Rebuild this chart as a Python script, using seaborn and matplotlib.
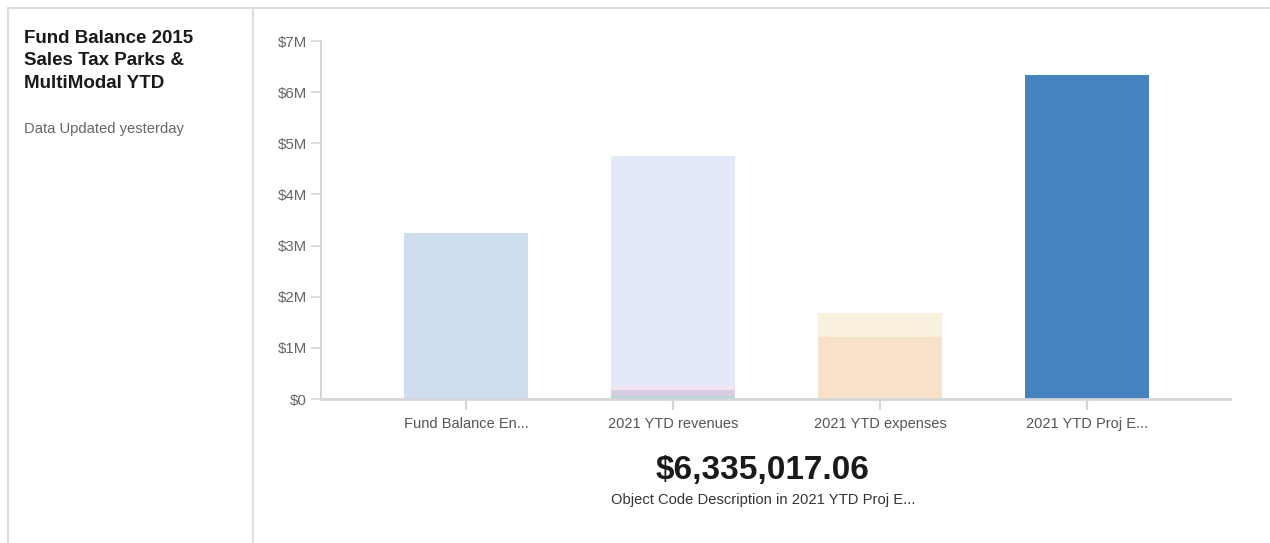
import matplotlib
matplotlib.use("Agg")
import matplotlib.pyplot as plt
from matplotlib.lines import Line2D
from matplotlib.ticker import FuncFormatter, MultipleLocator
import seaborn as sns
import pandas as pd

# Chart content
categories = ["Fund Balance En...", "2021 YTD revenues", "2021 YTD expenses", "2021 YTD Proj E..."]

# Stacked segments (bottom to top) per category, in dollars
seg_category = [
    "Fund Balance En...",
    "2021 YTD revenues", "2021 YTD revenues", "2021 YTD revenues", "2021 YTD revenues",
    "2021 YTD expenses", "2021 YTD expenses",
    "2021 YTD Proj E...",
]
seg_value = [
    3250000,
    50000, 120000, 80000, 4500000,
    1210000, 470000,
    6335017.06,
]
seg_color = [
    "#CFDEEE",
    "#B9D6D6", "#D8CCE4", "#F3E4F0", "#E3E9F6",
    "#F7E2C9", "#FAF0DE",
    "#4682C0",
]

highlight_value = 6335017.06
highlight_caption = "Object Code Description in 2021 YTD Proj E..."
title = "Fund Balance 2015\nSales Tax Parks &\nMultiModal YTD"
subtitle = "Data Updated yesterday"

sns.set_style("white")
plt.rcParams["font.family"] = ["Liberation Sans", "DejaVu Sans"]

df = pd.DataFrame({"category": seg_category, "value": seg_value, "color": seg_color})
df["top"] = df.groupby("category")["value"].cumsum()

fig = plt.figure(figsize=(12.70, 5.43), dpi=100)
ax = fig.add_axes([321 / 1270, 1 - 399 / 543, (1230 - 321) / 1270, (399 - 41) / 543])

# Draw the stacks from the top segment down so lower segments overlay the upper ones
for _, row in df.sort_values("top", ascending=False).iterrows():
    sns.barplot(x=[row["category"]], y=[row["top"]], order=categories,
                color=row["color"], saturation=1, width=0.6,
                errorbar=None, ax=ax, linewidth=0)

ax.set_ylim(0, 7_000_000)
ax.set_xlim(-0.70, 3.69)
ax.yaxis.set_major_locator(MultipleLocator(1_000_000))
ax.yaxis.set_major_formatter(FuncFormatter(lambda v, _: "$0" if v == 0 else f"${v/1e6:.0f}M"))
ax.set_xlabel("")
ax.set_ylabel("")

for s in ["top", "right"]:
    ax.spines[s].set_visible(False)
ax.spines["left"].set_color("#D4D6DA")
ax.spines["left"].set_linewidth(1.5)
ax.spines["bottom"].set_color("#D4D6DA")
ax.spines["bottom"].set_linewidth(2)
ax.tick_params(axis="y", colors="#D4D6DA", length=7, width=1.2, labelcolor="#666666",
               labelsize=10.8, pad=3, left=True)
ax.tick_params(axis="x", colors="#D4D6DA", length=8, width=1.5, labelcolor="#555555",
               labelsize=10.5, pad=5, bottom=True)

# Highlighted value
fig.text(763 / 1270, 1 - 471 / 543, f"${highlight_value:,.2f}", ha="center", va="center",
         fontsize=24, fontweight="bold", color="#1A1A1A")
fig.text(763 / 1270, 1 - 500 / 543, highlight_caption, ha="center", va="center",
         fontsize=10.6, color="#333333")

# Side panel
fig.text(24 / 1270, 1 - 30 / 543, title, ha="left", va="top", fontsize=13.5,
         fontweight="bold", color="#1A1A1A", linespacing=1.42)
fig.text(24 / 1270, 1 - 129 / 543, subtitle, ha="left", va="center", fontsize=10.6,
         color="#666666")

# Card borders
border = "#DDDDDD"
fig.add_artist(Line2D([8 / 1270, 1], [1 - 8 / 543] * 2, color=border, lw=1.5))
fig.add_artist(Line2D([8 / 1270] * 2, [0, 1 - 8 / 543], color=border, lw=1.5))
fig.add_artist(Line2D([253 / 1270] * 2, [0, 1 - 8 / 543], color=border, lw=1.5))

fig.savefig("out.png", dpi=100)
